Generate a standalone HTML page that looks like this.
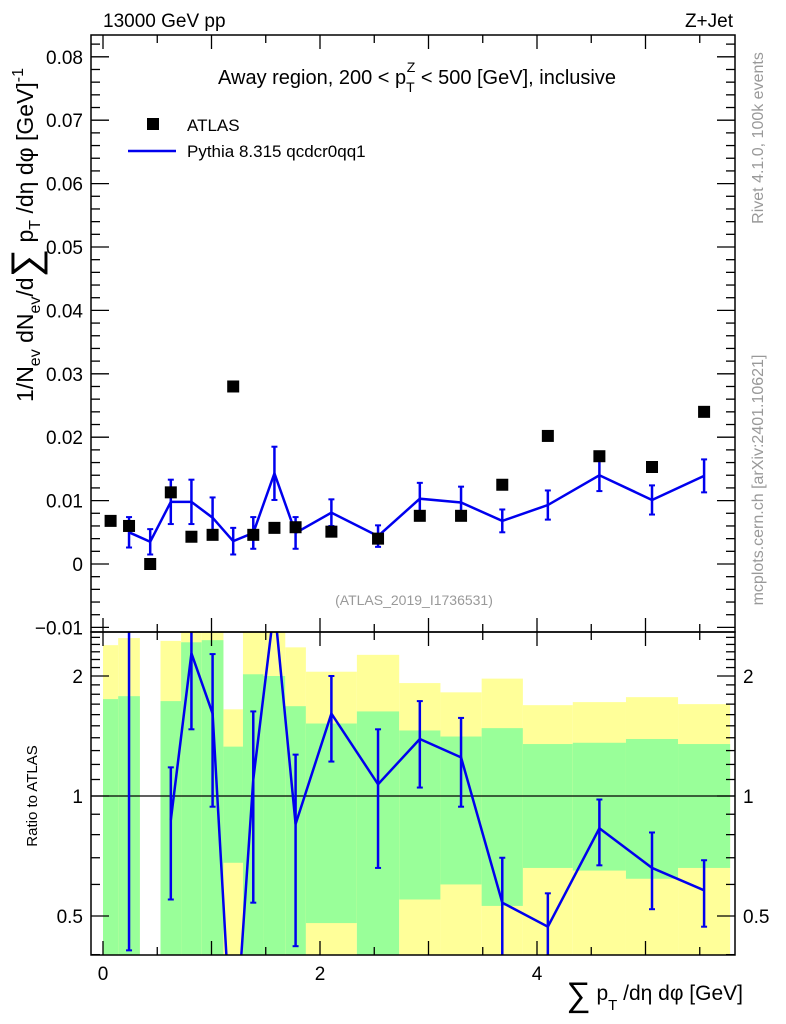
<!DOCTYPE html>
<html><head><meta charset="utf-8"><style>
html,body{margin:0;padding:0;background:#fff;}
svg{display:block;font-family:"Liberation Sans",sans-serif;}
</style></head><body>
<svg id="c" width="786" height="1024" viewBox="0 0 786 1024" xmlns="http://www.w3.org/2000/svg">
<rect width="786" height="1024" fill="#fff"/>
<text x="103" y="27" font-size="19">13000 GeV pp</text>
<text x="733" y="27" font-size="19" text-anchor="end">Z+Jet</text>
<text x="763" y="138" font-size="16" fill="#999" transform="rotate(-90 763 138)" text-anchor="middle">Rivet 4.1.0,  100k events</text>
<text x="763" y="480" font-size="16" fill="#999" transform="rotate(-90 763 480)" text-anchor="middle">mcplots.cern.ch [arXiv:2401.10621]</text>
<g id="g"></g>
</svg>
<script>
const edges=[0,0.14,0.34,0.53,0.72,0.91,1.11,1.29,1.48,1.68,1.87,2.34,2.73,3.11,3.49,3.87,4.33,4.82,5.30,5.78];
const dataVals=[0.0068,0.0060,0.0,0.0113,0.0043,0.0046,0.0280,0.0046,0.0057,0.0058,0.0051,0.0040,0.0076,0.0076,0.0125,0.0202,0.0170,0.0153,0.0240];
const mcVals=[null,0.0050,0.0035,0.0098,0.0098,0.0073,0.0036,0.0049,0.0143,0.0049,0.0081,0.0044,0.0103,0.0097,0.0068,0.0093,0.0140,0.0101,0.0139];
const mcErr=[null,0.0024,0.0020,0.0035,0.0035,0.0032,0.0021,0.0025,0.0042,0.0025,0.0021,0.0017,0.0025,0.0025,0.0018,0.0023,0.0025,0.0023,0.0026];
const ratioVals=[null,1.25,null,0.87,2.28,1.61,0.2,1.1,3.0,0.85,1.61,1.07,1.39,1.25,0.54,0.47,0.83,0.66,0.58];
const ratioHi=[null,3,null,1.18,3,2.27,0.2,1.63,3.0,1.27,2.0,1.47,1.73,1.57,0.70,0.57,0.98,0.81,0.69];
const ratioLo=[null,0.41,null,0.55,1.47,0.94,0.2,0.54,3.0,0.42,1.22,0.66,1.05,0.94,0.3,0.3,0.67,0.52,0.47];
const yelHi=[2.39,2.49,null,2.45,2.6,2.6,1.65,2.6,2.6,2.36,2.05,2.26,1.92,1.82,1.97,1.69,1.72,1.77,1.70];
const grnHi=[1.75,1.78,null,1.73,2.43,2.46,1.33,2.02,2.0,1.68,1.52,1.63,1.46,1.41,1.48,1.35,1.36,1.39,1.35];
const grnLo=[0.3,0.3,null,0.3,0.3,0.3,0.68,0.3,0.3,0.3,0.48,0.3,0.55,0.60,0.53,0.66,0.65,0.62,0.66];
const yelLo=[0.3,0.3,null,0.3,0.3,0.3,0.3,0.3,0.3,0.3,0.3,0.3,0.3,0.3,0.3,0.3,0.3,0.3,0.3];
const xTickLabels=["0","2","4"];
const yTickLabels=["−0.01","0","0.01","0.02","0.03","0.04","0.05","0.06","0.07","0.08"];

const L=91,R=735,T=35,M=632,B=955;
const X=v=>103+v*108.5;
const Y=v=>564-v*6340;
const RY=r=>796-Math.log2(r)*120;
const NS="http://www.w3.org/2000/svg";
const g=document.getElementById('g');
function el(tag,attrs,parent){const e=document.createElementNS(NS,tag);for(const k in attrs)e.setAttribute(k,attrs[k]);(parent||g).appendChild(e);return e;}
const cl=(v,a,b)=>Math.max(a,Math.min(b,v));

for(let i=0;i<edges.length-1;i++){
  if(yelHi[i]==null)continue;
  const x0=X(edges[i]),x1=X(edges[i+1]);
  let y0=cl(RY(yelHi[i]),M,B),y1=cl(RY(yelLo[i]),M,B);
  let r=el('rect',{x:x0,y:y0,width:x1-x0,height:y1-y0,fill:'#ffff99'});
  
  
  y0=cl(RY(grnHi[i]),M,B);y1=cl(RY(grnLo[i]),M,B);
  r=el('rect',{x:x0,y:y0,width:x1-x0,height:y1-y0,fill:'#99ff99'});
  
  
}
el('line',{x1:L,x2:R,y1:RY(1),y2:RY(1),stroke:'#000','stroke-width':1.3});

const defs=el('defs',{});
const cp=el('clipPath',{id:'rc'},defs);el('rect',{x:L,y:M,width:R-L,height:B-M},cp);
const cp2=el('clipPath',{id:'tc'},defs);el('rect',{x:L,y:T,width:R-L,height:M-T},cp2);
const rg=el('g',{'clip-path':'url(#rc)'});
const tg=el('g',{'clip-path':'url(#tc)'});
const mid=i=>X((edges[i]+edges[i+1])/2);

let pts=[];
for(let i=3;i<ratioVals.length;i++)pts.push(mid(i)+','+RY(ratioVals[i]));
let pl=el('polyline',{points:pts.join(' '),fill:'none',stroke:'#0000ee','stroke-width':2.5},rg);


for(let i=0;i<ratioVals.length;i++){
  if(ratioVals[i]==null)continue;
  const x=mid(i),yh=RY(ratioHi[i]),yl=RY(ratioLo[i]);
  if(yh===yl)continue;
  let e=el('line',{x1:x,x2:x,y1:yh,y2:yl,stroke:'#0000ee','stroke-width':2.5},rg);
  
  
  el('line',{x1:x-3,x2:x+3,y1:yh,y2:yh,stroke:'#0000ee','stroke-width':2},rg);
  el('line',{x1:x-3,x2:x+3,y1:yl,y2:yl,stroke:'#0000ee','stroke-width':2},rg);
}

pts=[];
for(let i=1;i<mcVals.length;i++)pts.push(mid(i)+','+Y(mcVals[i]));
pl=el('polyline',{points:pts.join(' '),fill:'none',stroke:'#0000ee','stroke-width':2.5},tg);


for(let i=1;i<mcVals.length;i++){
  const x=mid(i),yh=Y(mcVals[i]+mcErr[i]),yl=Y(mcVals[i]-mcErr[i]);
  let e=el('line',{x1:x,x2:x,y1:yh,y2:yl,stroke:'#0000ee','stroke-width':2.5},tg);
  
  
  el('line',{x1:x-3,x2:x+3,y1:yh,y2:yh,stroke:'#0000ee','stroke-width':2},tg);
  el('line',{x1:x-3,x2:x+3,y1:yl,y2:yl,stroke:'#0000ee','stroke-width':2},tg);
}
for(let i=0;i<dataVals.length;i++){
  let e=el('rect',{x:mid(i)-6,y:Y(dataVals[i])-6,width:12,height:12,fill:'#000'},tg);
  
  
}

el('rect',{x:L,y:T,width:R-L,height:M-T,fill:'none',stroke:'#000','stroke-width':1.5});
el('rect',{x:L,y:M,width:R-L,height:B-M,fill:'none',stroke:'#000','stroke-width':1.5});

for(let v=0;v<=5.5;v+=0.5){
  const x=X(v),maj=Math.abs(v-Math.round(v))<1e-6;const len=maj?14:8;
  for(const [y0,d] of [[T,1],[M,-1],[M,1],[B,-1]]){el('line',{x1:x,x2:x,y1:y0,y2:y0+d*len,stroke:'#000','stroke-width':1.3});}
}
xTickLabels.forEach((s,i)=>{let t=el('text',{x:X(i*2),y:980,'font-size':19,'text-anchor':'middle'});t.textContent=s;
 });
for(let k=-5;k<=41;k++){
  const v=k*0.002,y=Y(v);if(y<T||y>M)continue;const maj=k%5===0;const len=maj?18:9;
  el('line',{x1:L,x2:L+len,y1:y,y2:y,stroke:'#000','stroke-width':1.3});
  el('line',{x1:R,x2:R-len,y1:y,y2:y,stroke:'#000','stroke-width':1.3});
}
yTickLabels.forEach((s,i)=>{let t=el('text',{x:83,y:Y((i-1)*0.01)+7,'font-size':19,'text-anchor':'end'});t.textContent=s;
 });
const rt=[0.4,0.5,0.6,0.7,0.8,0.9,1,1.1,1.2,1.3,1.4,1.5,1.6,1.7,1.8,1.9,2,2.1,2.2,2.3,2.4,2.5];
rt.forEach(r=>{const y=RY(r);if(y<M||y>B)return;const maj=(r===0.5||r===1||r===2);const len=maj?18:9;
  el('line',{x1:L,x2:L+len,y1:y,y2:y,stroke:'#000','stroke-width':1.3});
  el('line',{x1:R,x2:R-len,y1:y,y2:y,stroke:'#000','stroke-width':1.3});});
[["0.5",0.5],["1",1],["2",2]].forEach(([s,r])=>{
  let t=el('text',{x:83,y:RY(r)+7,'font-size':19,'text-anchor':'end'});t.textContent=s;
  
  t=el('text',{x:743,y:RY(r)+7,'font-size':19});t.textContent=s;
  });
</script>
<div style="position:absolute;left:0;top:0;width:786px;height:1024px;pointer-events:none">
<svg width="786" height="1024" style="position:absolute;left:0;top:0" font-family="Liberation Sans, sans-serif">
<text x="417" y="84" font-size="20" text-anchor="middle">Away region, 200 &lt; p<tspan font-size="14" dy="8">T</tspan><tspan font-size="14" dx="-8" dy="-20">Z</tspan><tspan dy="12"> &lt; 500 [GeV], inclusive</tspan></text>
<rect x="147" y="118" width="12" height="12" fill="#000"/>
<text x="187" y="131" font-size="17">ATLAS</text>
<line x1="128" y1="151" x2="176" y2="151" stroke="#0000ee" stroke-width="2.5"/>
<text x="187" y="157" font-size="17">Pythia 8.315 qcdcr0qq1</text>
<text x="414" y="605" font-size="14" fill="#999" text-anchor="middle">(ATLAS_2019_I1736531)</text>
<text x="33" y="235" font-size="23" transform="rotate(-90 33 235)" text-anchor="middle">1/N<tspan font-size="16" dy="7">ev</tspan><tspan dy="-7"> dN</tspan><tspan font-size="16" dy="7">ev</tspan><tspan dy="-7">/d</tspan><tspan font-size="40" dy="6">∑</tspan><tspan dy="-6"> p</tspan><tspan font-size="16" dy="7">T</tspan><tspan dy="-7"> /dη dφ  [GeV]</tspan><tspan font-size="16" dy="-10">-1</tspan></text>
<text x="37" y="796" font-size="15" transform="rotate(-90 37 796)" text-anchor="middle">Ratio to ATLAS</text>
<text x="743" y="1000" font-size="21" text-anchor="end"><tspan font-size="34" dy="6">∑</tspan><tspan dy="-6"> p</tspan><tspan font-size="15" dy="10">T</tspan><tspan dy="-10"> /dη dφ [GeV]</tspan></text>
</svg></div>
</body></html>
